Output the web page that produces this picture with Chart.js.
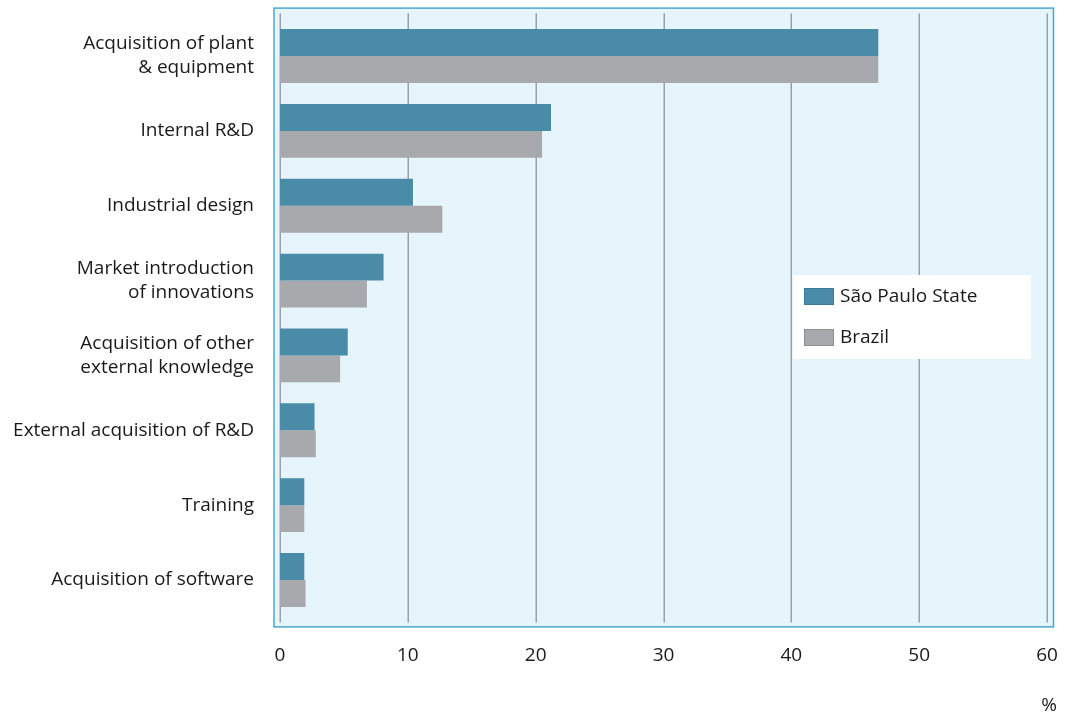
<!DOCTYPE html>
<html>
<head>
<meta charset="utf-8">
<title>Innovation activities</title>
<script src="https://cdn.jsdelivr.net/npm/chart.js@4.4.0/dist/chart.umd.min.js"></script>
<style>
  html, body { margin: 0; padding: 0; background: #fff; }
  #grafico { display: block; }
</style>
</head>
<body>
<canvas id="grafico" width="1067" height="715"></canvas>
<script>
// Categorias (rótulos do eixo vertical)
const categorias = [
  ["Acquisition of plant", "& equipment"],
  "Internal R&D",
  "Industrial design",
  ["Market introduction", "of innovations"],
  ["Acquisition of other", "external knowledge"],
  "External acquisition of R&D",
  "Training",
  "Acquisition of software",
];

// Séries (%)
const saoPaulo = [46.8, 21.2, 10.4, 8.1, 5.3, 2.7, 1.9, 1.9];
const brasil = [46.8, 20.5, 12.7, 6.8, 4.7, 2.8, 1.9, 2.0];

// Eixo horizontal
const xMin = 0;
const xMax = 60;
const xPasso = 10;

const fonte = "'Open Sans', 'Noto Sans', sans-serif";
const tamanho = 19;

// Fundo, moldura e linhas de grade da área do gráfico
const fundoPlugin = {
  id: "fundo",
  beforeDatasetsDraw(chart) {
    const { ctx, chartArea, scales } = chart;
    const x0 = chartArea.left - 6;
    const x1 = chartArea.right + 6.5;
    const y0 = chartArea.top - 10.5;
    const y1 = chartArea.bottom + 9.5;
    ctx.save();
    ctx.fillStyle = "#e6f4fc";
    ctx.fillRect(x0, y0, x1 - x0, y1 - y0);
    ctx.strokeStyle = "#9d9fa3";
    ctx.lineWidth = 1.5;
    for (let v = xMin; v <= xMax; v += xPasso) {
      const x = Math.round(scales.x.getPixelForValue(v)) + 0.25;
      ctx.beginPath();
      ctx.moveTo(x, chartArea.top - 5);
      ctx.lineTo(x, chartArea.bottom + 5);
      ctx.stroke();
    }
    ctx.strokeStyle = "#4aa7cf";
    ctx.lineWidth = 1.5;
    ctx.strokeRect(x0, y0, x1 - x0, y1 - y0);
    ctx.restore();
  },
  afterDraw(chart) {
    const { ctx, data } = chart;
    ctx.save();
    // Legenda
    ctx.fillStyle = "#ffffff";
    ctx.fillRect(793, 275, 238, 84);
    data.datasets.forEach((ds, i) => {
      const y = 288 + i * 41;
      ctx.fillStyle = ds.backgroundColor;
      ctx.fillRect(804, y, 30, 17);
      ctx.strokeStyle = ds.legendBorder;
      ctx.lineWidth = 1;
      ctx.strokeRect(804.5, y + 0.5, 29, 16);
      ctx.fillStyle = "#1a1a1a";
      ctx.font = tamanho + "px " + fonte;
      ctx.textBaseline = "middle";
      ctx.textAlign = "left";
      ctx.fillText(ds.label, 840, y + 9);
    });
    // Unidade
    ctx.textAlign = "center";
    ctx.fillText("%", 1049, 706);
    ctx.restore();
  },
};

const ctx = document.getElementById("grafico").getContext("2d");
const grafico = new Chart(ctx, {
  type: "bar",
  data: {
    labels: categorias,
    datasets: [
      {
        label: "São Paulo State",
        data: saoPaulo,
        backgroundColor: "#4a8ba8",
        legendBorder: "#3b7a96",
        borderWidth: 0,
        categoryPercentage: 0.72,
        barPercentage: 1,
      },
      {
        label: "Brazil",
        data: brasil,
        backgroundColor: "#a8a9ad",
        legendBorder: "#8e8f93",
        borderWidth: 0,
        categoryPercentage: 0.72,
        barPercentage: 1,
      },
    ],
  },
  options: {
    indexAxis: "y",
    responsive: false,
    animation: false,
    layout: {
      padding: { top: 18.6, right: 20, left: 0, bottom: 0 },
    },
    scales: {
      x: {
        min: xMin,
        max: xMax,
        grid: { display: false, drawTicks: false },
        border: { display: false },
        ticks: {
          stepSize: xPasso,
          color: "#1a1a1a",
          padding: 27,
          font: { family: fonte, size: tamanho },
        },
        afterFit(scale) {
          scale.height = 715 - 617.4;
          scale.paddingLeft = 0;
          scale.paddingRight = 0;
        },
      },
      y: {
        grid: { display: false, drawTicks: false },
        border: { display: false },
        ticks: {
          color: "#1a1a1a",
          padding: 26,
          font: { family: fonte, size: tamanho, lineHeight: 24 / tamanho },
        },
        afterFit(scale) {
          scale.width = 280;
          scale.paddingTop = 0;
          scale.paddingBottom = 0;
        },
      },
    },
    plugins: {
      legend: { display: false },
      tooltip: { enabled: false },
    },
  },
  plugins: [fundoPlugin],
});
</script>
</body>
</html>
